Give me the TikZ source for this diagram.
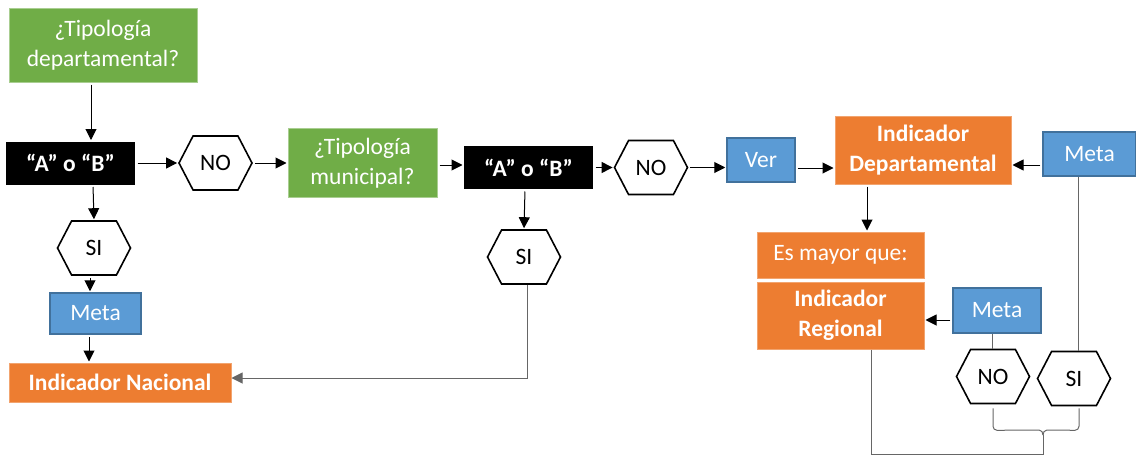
\documentclass[tikz,border=0pt]{standalone}
\usepackage{fontspec}
\setmainfont{Carlito}
\usetikzlibrary{arrows.meta,shapes.symbols}
\definecolor{verde}{HTML}{70AD47}
\definecolor{naranja}{HTML}{ED7D31}
\definecolor{azul}{HTML}{5B9BD5}
\definecolor{azulborde}{HTML}{41719C}

\begin{document}
\begin{tikzpicture}[x=1pt,y=-1pt,>={Triangle[length=11pt,width=11pt]},line width=1pt,
                every node/.style={font=\fontsize{23.5}{30}\selectfont,align=center,inner sep=0pt},
                pregunta/.style={fill=verde,draw=verde!60!white,text=white},
                opcion/.style={fill=black,text=white,font=\fontsize{23.5}{30}\selectfont\bfseries},
                hexa/.style={signal,signal to=east and west,signal pointer angle=125,draw,
                  line width=1.6pt,fill=white,minimum width=73pt,minimum height=54pt},
                metabox/.style={fill=azul,draw=azulborde,line width=1.5pt,text=white},
                indicador/.style={fill=naranja,draw=naranja!70!white,text=white,
                  font=\fontsize{23.5}{30}\selectfont\bfseries},
                gris/.style={draw=black!60}]
                \useasboundingbox (0,0) rectangle (1136,455);

                \node[pregunta,minimum width=188pt,minimum height=74pt] (tipdep) at (103,45) {¿Tipología\\departamental?};
                \node[opcion,minimum width=129pt,minimum height=43pt] (ab1) at (70.5,163) {“A” o “B”};
                \node[hexa] (no1) at (215.5,163) {NO};
                \node[pregunta,minimum width=149pt,minimum height=69pt] (tipmun) at (362.5,163) {¿Tipología\\municipal?};
                \node[opcion,minimum width=129pt,minimum height=43pt] (ab2) at (528.5,167.5) {“A” o “B”};
                \node[hexa] (no2) at (651,167.5) {NO};
                \node[metabox,minimum width=68pt,minimum height=44pt] (ver) at (761,160) {Ver};
                \node[indicador,minimum width=176pt,minimum height=68pt] (inddep) at (923,150) {Indicador\\Departamental};
                \node[metabox,minimum width=93pt,minimum height=44pt] (meta3) at (1089.5,154) {Meta};
                \node[hexa] (si1) at (94,248) {SI};
                \node[metabox,minimum width=91pt,minimum height=41pt] (meta1) at (95.5,313.5) {Meta};
                \node[indicador,minimum width=222pt,minimum height=39pt] (indnac) at (120,382.5) {Indicador Nacional};
                \node[hexa] (si2) at (524,257) {SI};
                \node[indicador,font=\fontsize{23.5}{30}\selectfont,minimum width=167pt,minimum height=46pt] (esmayor) at (840.5,255) {Es mayor que:};
                \node[indicador,minimum width=167pt,minimum height=67pt] (indreg) at (840.5,315.5) {Indicador\\Regional};
                \node[metabox,minimum width=88pt,minimum height=45pt] (meta2) at (997,310.5) {Meta};
                \node[hexa] (no3) at (993,376.5) {NO};
                \node[hexa] (si3) at (1074,378.5) {SI};
                \coordinate (punta) at (1043,430);
                \coordinate (fondo) at (1043,454);

                \path[->,shorten >=1pt,shorten <=2pt]
                ([xshift=-12pt]tipdep.south) edge ([xshift=20.5pt]ab1.north)
                (ab1.east) edge (no1.west)
                (no1.east) edge (tipmun.west)
                ([yshift=-2pt]tipmun.east) edge ([yshift=2.5pt]ab2.west)
                (ab2.east) edge (no2.west)
                (no2.east) edge ([yshift=-7.5pt]ver.west)
                ([yshift=-8pt]ver.east) edge ([yshift=-18pt]inddep.west)
                ([yshift=-11pt]meta3.west) edge ([yshift=-15pt]inddep.east)
                ([xshift=-56pt]inddep.south) edge ([xshift=26.5pt]esmayor.north)
                ([yshift=-9.5pt]meta2.west) edge ([yshift=-4.5pt]indreg.east)
                ([xshift=22.5pt]ab1.south) edge (si1.north)
                ([xshift=-4pt]si1.south) edge ([xshift=-5.5pt]meta1.north)
                ([xshift=-6.5pt]meta1.south) edge ([xshift=-31pt]indnac.north)
                ([xshift=-3.5pt]ab2.south) edge (si2.north)
                ;
                \draw[->,gris] ([xshift=3pt]si2.south) |- ([yshift=4.5pt]indnac.east);
                \draw[gris] ([xshift=-5pt]meta2.south) -- ([xshift=-1pt]no3.north);
                \draw[gris] ([xshift=-11.5pt]meta3.south) -- ([xshift=4pt]si3.north);
                % llave bajo NO / SI
                \draw[gris] ([yshift=-4pt]no3.south) -- ++(0,18) to[out=270,in=180] ++(4,4)
                  -- ([xshift=-4pt]punta) to[out=0,in=90] ([yshift=-5pt]punta);
                \draw[gris] ([xshift=5pt,yshift=-2pt]si3.south) -- ++(0,18) to[out=270,in=0] ++(-4,4)
                  -- ([xshift=4pt]punta) to[out=180,in=90] ([yshift=-5pt]punta);
                \draw[gris] ([xshift=30.5pt]indreg.south) |- (fondo) -- ([yshift=-5pt]punta);
\end{tikzpicture}
\end{document}
